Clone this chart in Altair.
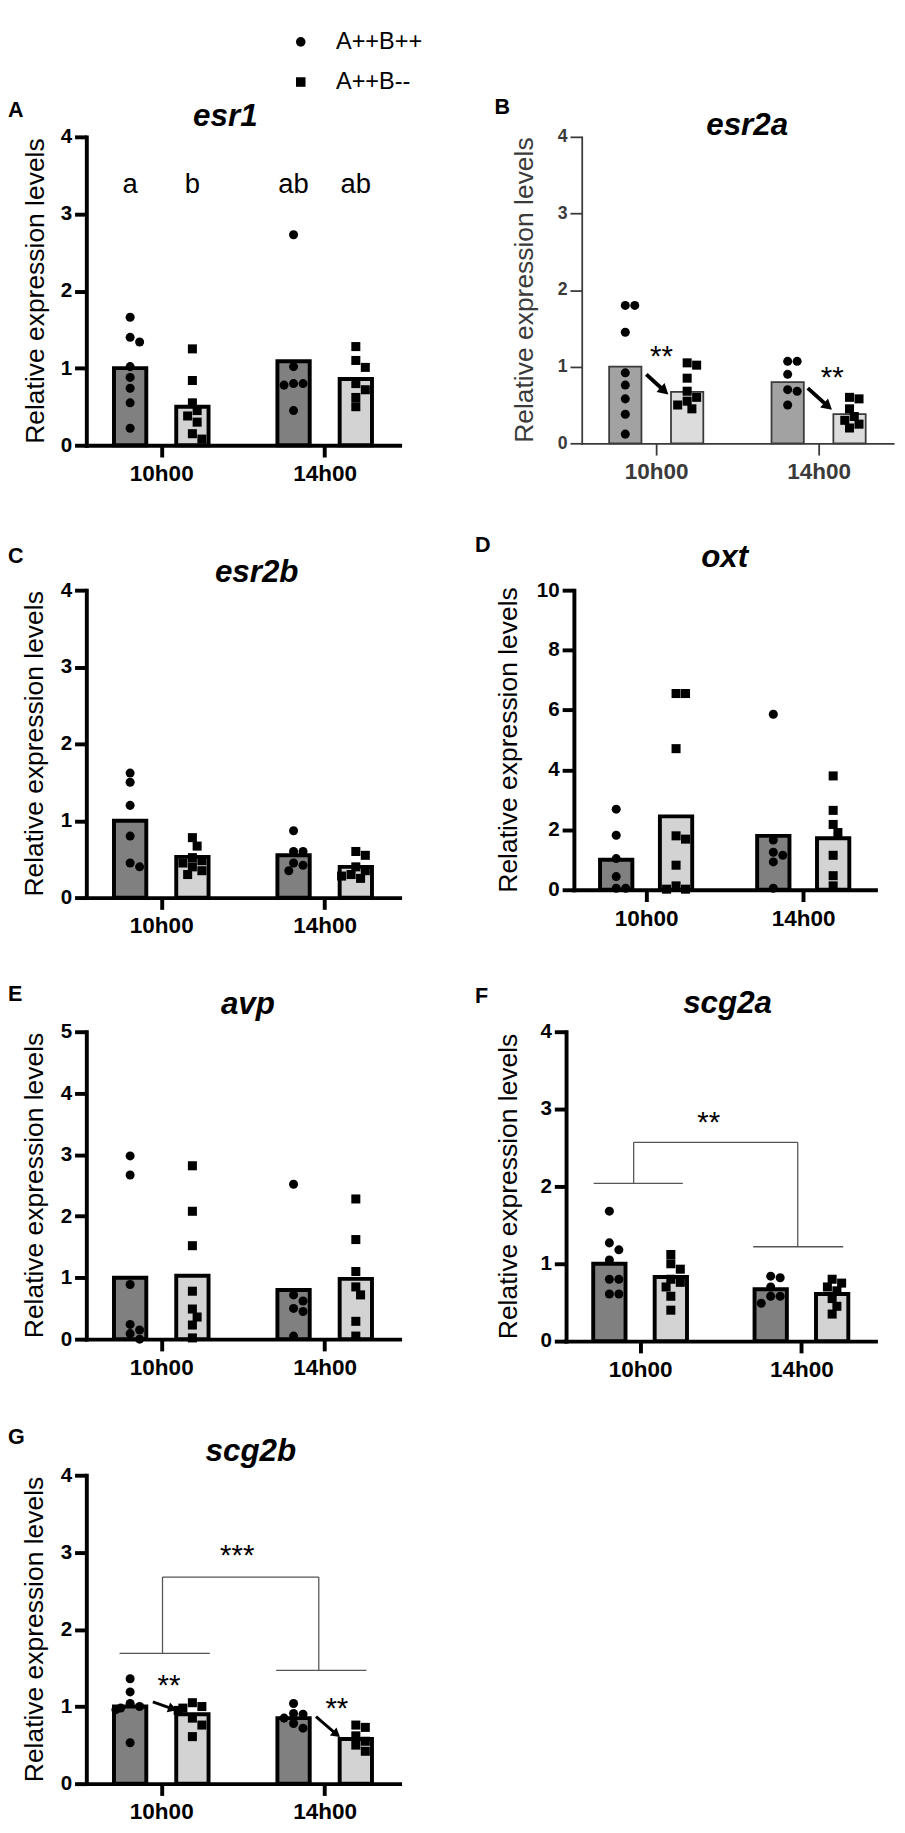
import math
import altair as alt
import pandas as pd

FONT = "Liberation Sans"
TIMES = ["10h00", "14h00"]
GENOTYPES = ["A++B++", "A++B--"]
Y_TITLE = "Relative expression levels"

# ---------------- data (group order: 10h00 ++, 10h00 --, 14h00 ++, 14h00 --)
esr1_means = [1.00, 0.50, 1.09, 0.86]
esr1_pp10 = [1.66, 1.40, 1.34, 1.02, 0.88, 0.74, 0.55, 0.22]
esr1_mm10 = [1.25, 0.84, 0.55, 0.45, 0.38, 0.30, 0.15, 0.08]
esr1_pp14 = [2.73, 1.02, 0.80, 0.80, 0.78, 0.45]
esr1_mm14 = [1.28, 1.10, 1.01, 0.80, 0.72, 0.62, 0.50]
esr1_letters = ["a", "b", "ab", "ab"]

esr2a_means = [1.00, 0.67, 0.80, 0.38]
esr2a_pp10 = [1.80, 1.80, 1.45, 0.92, 0.76, 0.58, 0.38, 0.12]
esr2a_mm10 = [1.05, 1.02, 0.85, 0.68, 0.60, 0.55, 0.50, 0.45]
esr2a_pp14 = [1.07, 1.07, 0.90, 0.70, 0.68, 0.50]
esr2a_mm14 = [0.60, 0.58, 0.45, 0.35, 0.30, 0.25, 0.20]

esr2b_means = [1.00, 0.53, 0.55, 0.40]
esr2b_pp10 = [1.62, 1.50, 1.20, 0.80, 0.45, 0.40]
esr2b_mm10 = [0.78, 0.67, 0.52, 0.48, 0.45, 0.40, 0.35, 0.30]
esr2b_pp14 = [0.87, 0.60, 0.60, 0.45, 0.42, 0.35]
esr2b_mm14 = [0.60, 0.55, 0.40, 0.35, 0.30, 0.28, 0.25]

oxt_means = [1.00, 2.45, 1.80, 1.72]
oxt_pp10 = [2.69, 1.82, 1.04, 0.44, 0.05, 0.05]
oxt_mm10 = [6.55, 6.55, 4.71, 1.80, 1.69, 0.82, 0.13, 0.02, 0.02]
oxt_pp14 = [5.86, 1.66, 1.25, 1.15, 0.93, 0.05]
oxt_mm14 = [3.80, 2.65, 2.18, 1.91, 1.15, 0.47, 0.13]

avp_means = [1.00, 1.03, 0.80, 0.98]
avp_pp10 = [2.98, 2.67, 0.89, 0.24, 0.15, 0.09, 0.00]
avp_mm10 = [2.82, 2.08, 1.52, 0.78, 0.49, 0.36, 0.23, 0.02]
avp_pp14 = [2.52, 0.72, 0.62, 0.50, 0.45, 0.05]
avp_mm14 = [2.28, 1.62, 1.10, 0.85, 0.72, 0.29, 0.05]

scg2a_means = [1.00, 0.83, 0.67, 0.61]
scg2a_pp10 = [1.68, 1.27, 1.18, 1.05, 0.80, 0.80, 0.61, 0.61]
scg2a_mm10 = [1.12, 1.00, 0.93, 0.80, 0.76, 0.70, 0.58, 0.40]
scg2a_pp14 = [0.84, 0.82, 0.70, 0.58, 0.58, 0.49]
scg2a_mm14 = [0.80, 0.75, 0.70, 0.65, 0.55, 0.45, 0.35]

scg2b_means = [1.00, 0.90, 0.85, 0.58]
scg2b_pp10 = [1.36, 1.19, 1.04, 1.00, 0.98, 0.96, 0.53]
scg2b_mm10 = [1.05, 1.00, 0.98, 0.95, 0.85, 0.76, 0.61]
scg2b_pp14 = [1.04, 0.91, 0.90, 0.85, 0.78, 0.72]
scg2b_mm14 = [0.76, 0.73, 0.62, 0.55, 0.50, 0.42]

# annotations (x in axis units, y in data units)
esr2a_stars = [("**", 2.42, 1.24), ("**", 7.94, 0.97)]
esr2a_arrows = [(1.93, 0.90, 2.63, 0.64), (7.15, 0.72, 7.92, 0.44)]
scg2a_bracket = [(0.74, 3.64, 2.04, 2.04), (2.04, 2.04, 2.04, 2.57), (2.04, 7.38, 2.57, 2.57),
                 (7.38, 7.38, 2.57, 1.22), (5.93, 8.86, 1.22, 1.22)]
scg2a_stars = [("**", 4.48, 2.93)]
scg2b_bracket = [(0.91, 3.81, 1.69, 1.69), (2.29, 2.29, 1.69, 2.68), (2.29, 7.31, 2.68, 2.68),
                 (7.31, 7.31, 2.68, 1.47), (5.94, 8.84, 1.47, 1.47)]
scg2b_stars = [("***", 4.69, 3.07), ("**", 2.50, 1.38), ("**", 7.89, 1.08)]
scg2b_arrows = [(1.98, 1.06, 2.76, 0.95), (7.22, 0.87, 8.00, 0.60)]

# ---------------- layout constants
X_MAX = 9.75
GROUP_POS = [1.25, 3.25, 6.5, 8.5]
TICK_POS = [2.25, 7.5]


def beeswarm(vals, ppy, ppx, min_d=9.0):
    cands = [0, 5, -5, 10, -10, 15, -15]
    placed = []
    offs = [0.0] * len(vals)
    for k in sorted(range(len(vals)), key=lambda i: -vals[i]):
        y = vals[k] * ppy
        chosen = cands[-1]
        for c in cands:
            if all((c - px) ** 2 + (y - py) ** 2 >= min_d ** 2 for px, py in placed):
                chosen = c
                break
        placed.append((chosen, y))
        offs[k] = chosen / ppx
    return offs


def ptext(s, x, y, size, weight="normal", style="normal", align="left",
          baseline="alphabetic", angle=0, color="black"):
    kw = dict(font=FONT, fontSize=size, fontWeight=weight, fontStyle=style,
              align=align, baseline=baseline, color=color)
    if angle:
        kw["angle"] = angle
    return alt.Chart(pd.DataFrame({"t": [s]})).mark_text(**kw).encode(
        text="t:N", x=alt.value(x), y=alt.value(y))


def panel(cfg):
    W, H, ymax = cfg["W"], cfg["H"], cfg["ymax"]
    thin = cfg.get("thin", False)
    ink = "#3a3a3a" if thin else "#000000"
    lw = 1.8 if thin else 4
    fills = ["#a2a2a2", "#dcdcdc"] if thin else ["#808080", "#d3d3d3"]
    ppx = W / X_MAX
    ppy = H / ymax
    xs = alt.Scale(domain=[0, X_MAX], nice=False, zero=False)
    ys = alt.Scale(domain=[0, ymax], nice=False)
    xaxis = alt.Axis(values=TICK_POS,
                     labelExpr=f"datum.value < 5 ? '{TIMES[0]}' : '{TIMES[1]}'",
                     title=None, grid=False, domainColor=ink, domainWidth=lw,
                     domainCap="square", tickColor=ink, tickWidth=lw, tickSize=12,
                     labelFont=FONT, labelFontWeight="bold", labelFontSize=23,
                     labelColor=ink, labelPadding=6)
    step = cfg.get("ystep", 1)
    yaxis = alt.Axis(values=list(range(0, ymax + 1, step)), format="d", title=None,
                     grid=False, domainColor=ink, domainWidth=lw, domainCap="square",
                     tickColor=ink, tickWidth=lw, tickSize=12, labelFont=FONT,
                     labelFontWeight="bold", labelFontSize=18 if thin else 21,
                     labelColor=ink, labelPadding=3)

    def X(field):
        return alt.X(f"{field}:Q", scale=xs, axis=xaxis)

    def Y(field):
        return alt.Y(f"{field}:Q", scale=ys, axis=yaxis, stack=None)

    l, t, r, b = cfg["frame"]
    layers = [alt.Chart(pd.DataFrame({"d": [0]})).mark_rect(
        fill="white", fillOpacity=0, strokeWidth=0).encode(
        x=alt.value(l), x2=alt.value(r), y=alt.value(t), y2=alt.value(b))]

    bars = pd.DataFrame({"x": GROUP_POS, "y": cfg["means"],
                         "geno": GENOTYPES * 2,
                         "time": [tm for tm in TIMES for _ in GENOTYPES]})
    bars["fill"] = [fills[i % 2] for i in range(4)]
    layers.append(alt.Chart(bars).mark_bar(
        orient="vertical", size=33, stroke=ink, strokeWidth=lw).encode(
        x=X("x"), y=Y("y"), fill=alt.Fill("fill:N", scale=None)))

    rows = []
    for gi, vals in enumerate(cfg["pts"]):
        offs = beeswarm(vals, ppy, ppx)
        for v, o in zip(vals, offs):
            rows.append({"x": GROUP_POS[gi] + o, "y": v, "geno": GENOTYPES[gi % 2]})
    pts = pd.DataFrame(rows)
    layers.append(alt.Chart(pts).mark_point(filled=True, opacity=1, color="black", size=85).encode(
        x=X("x"), y=Y("y"),
        shape=alt.Shape("geno:N", scale=alt.Scale(domain=GENOTYPES, range=["circle", "square"]),
                        legend=None)))

    if cfg.get("bracket"):
        br = pd.DataFrame(cfg["bracket"], columns=["x", "x2", "y", "y2"])
        layers.append(alt.Chart(br).mark_rule(color="#555555", strokeWidth=1.3).encode(
            x=X("x"), x2="x2:Q", y=Y("y"), y2="y2:Q"))

    if cfg.get("arrows"):
        lines, heads = [], []
        for (x1, y1, x2, y2) in cfg["arrows"]:
            dxp = (x2 - x1) * ppx
            dyp = (y1 - y2) * ppy
            L = math.hypot(dxp, dyp)
            ux, uy = dxp / L, dyp / L
            back = 5.0
            hx = x2 - ux * back / ppx
            hy = y2 + uy * back / ppy
            ang = math.degrees(math.atan2(dyp, dxp)) % 360
            lines.append({"x": x1, "y": y1, "x2": hx, "y2": hy})
            heads.append({"x": hx, "y": hy, "a": ang})
        aw = cfg.get("arrow_w", 3.5)
        layers.append(alt.Chart(pd.DataFrame(lines)).mark_rule(color="black", strokeWidth=aw).encode(
            x=X("x"), x2="x2:Q", y=Y("y"), y2="y2:Q"))
        layers.append(alt.Chart(pd.DataFrame(heads)).mark_point(
            shape="triangle-right", filled=True, opacity=1, color="black",
            size=cfg.get("head_size", 130)).encode(
            x=X("x"), y=Y("y"), angle=alt.Angle("a:Q", scale=None)))

    if cfg.get("stars"):
        fs = 30
        st = pd.DataFrame(cfg["stars"], columns=["t", "x", "y"])
        layers.append(alt.Chart(st).mark_text(font=FONT, fontSize=fs, align="center",
                                              baseline="alphabetic", dy=round(0.585 * fs),
                                              color="black").encode(
            x=X("x"), y=Y("y"), text="t:N"))

    if cfg.get("letters"):
        lt = pd.DataFrame({"t": cfg["letters"], "x": GROUP_POS, "y": [3.27] * 4})
        layers.append(alt.Chart(lt).mark_text(font=FONT, fontSize=28, align="center",
                                              baseline="alphabetic", color="black").encode(
            x=X("x"), y=Y("y"), text="t:N"))

    lx, ly = cfg["letter_xy"]
    layers.append(ptext(cfg["key"], lx, ly, 22, weight="bold"))
    tx, ty = cfg["title_xy"]
    layers.append(ptext(cfg["gene"], tx, ty, 32, weight="bold", style="italic", align="center"))
    layers.append(ptext(Y_TITLE, cfg["ytitle_x"], H / 2, 27, align="center",
                        baseline="middle", angle=270, color=ink))

    if cfg.get("legend"):
        one = pd.DataFrame({"d": [0]})
        for shape, yy, name in [("circle", -97, GENOTYPES[0]), ("square", -56, GENOTYPES[1])]:
            layers.append(alt.Chart(one).mark_point(filled=True, opacity=1, color="black",
                                                    size=95, shape=shape).encode(
                x=alt.value(219), y=alt.value(yy)))
            layers.append(ptext(name, 255, yy, 24, baseline="middle"))

    return alt.layer(*layers).properties(width=W, height=H)


PANELS = {
    "A": dict(key="A", gene="esr1", means=esr1_means,
              pts=[esr1_pp10, esr1_mm10, esr1_pp14, esr1_mm14], ymax=4, W=320, H=315,
              frame=(-80, -110, 324, 360), letter_xy=(-80, -20), title_xy=(142, -11),
              ytitle_x=-51, letters=esr1_letters, legend=True),
    "B": dict(key="B", gene="esr2a", means=esr2a_means,
              pts=[esr2a_pp10, esr2a_mm10, esr2a_pp14, esr2a_mm14], ymax=4, W=318, H=313,
              frame=(-89, -112, 322, 358), letter_xy=(-89, -23), title_xy=(169, -2),
              ytitle_x=-58, thin=True, stars=esr2a_stars, arrows=esr2a_arrows,
              arrow_w=4, head_size=150),
    "C": dict(key="C", gene="esr2b", means=esr2b_means,
              pts=[esr2b_pp10, esr2b_mm10, esr2b_pp14, esr2b_mm14], ymax=4, W=320, H=314,
              frame=(-80, -55, 324, 362), letter_xy=(-80, -28), title_xy=(174, -8),
              ytitle_x=-52),
    "D": dict(key="D", gene="oxt", means=oxt_means,
              pts=[oxt_pp10, oxt_mm10, oxt_pp14, oxt_mm14], ymax=10, ystep=2, W=308, H=306,
              frame=(-101, -66, 312, 351), letter_xy=(-101, -39), title_xy=(154, -24),
              ytitle_x=-66),
    "E": dict(key="E", gene="avp", means=avp_means,
              pts=[avp_pp10, avp_mm10, avp_pp14, avp_mm14], ymax=5, W=320, H=314,
              frame=(-80, -52, 324, 359), letter_xy=(-80, -31), title_xy=(165, -18),
              ytitle_x=-52),
    "F": dict(key="F", gene="scg2a", means=scg2a_means,
              pts=[scg2a_pp10, scg2a_mm10, scg2a_pp14, scg2a_mm14], ymax=4, W=316, H=316,
              frame=(-93, -50, 320, 361), letter_xy=(-93, -29), title_xy=(165, -19),
              ytitle_x=-58, bracket=scg2a_bracket, stars=scg2a_stars),
    "G": dict(key="G", gene="scg2b", means=scg2b_means,
              pts=[scg2b_pp10, scg2b_mm10, scg2b_pp14, scg2b_mm14], ymax=4, W=320, H=315,
              frame=(-80, -55, 324, 351), letter_xy=(-80, -32), title_xy=(168, -15),
              ytitle_x=-52, bracket=scg2b_bracket, stars=scg2b_stars, arrows=scg2b_arrows,
              arrow_w=3, head_size=110),
}

row1 = alt.hconcat(panel(PANELS["A"]), panel(PANELS["B"]), spacing=73)
row2 = alt.hconcat(panel(PANELS["C"]), panel(PANELS["D"]), spacing=73)
row3 = alt.hconcat(panel(PANELS["E"]), panel(PANELS["F"]), spacing=73)
row4 = panel(PANELS["G"])

chart = alt.vconcat(row1, row2, row3, row4, spacing=37).properties(
    padding=0
).configure_view(strokeWidth=0)

chart.save("out.html", embed_options={"renderer": "svg", "actions": False})
